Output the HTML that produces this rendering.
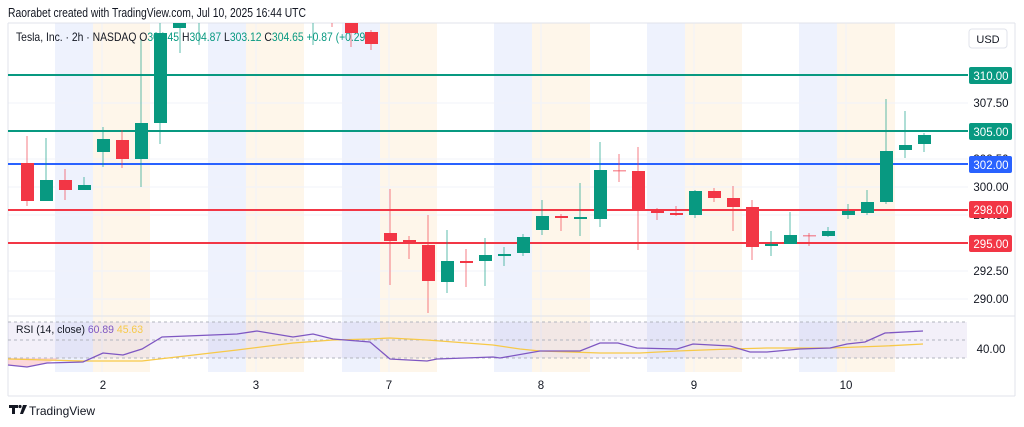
<!DOCTYPE html>
<html><head><meta charset="utf-8"><style>
html,body{margin:0;padding:0;background:#fff;width:1024px;height:427px;overflow:hidden}
svg{display:block}
text{font-family:"Liberation Sans",sans-serif}
</style></head><body>
<svg width="1024" height="427" viewBox="0 0 1024 427" xmlns="http://www.w3.org/2000/svg">
<rect width="1024" height="427" fill="#fff"/>
<text x="8" y="17" font-size="12.5" fill="#131722" textLength="298" lengthAdjust="spacingAndGlyphs">Raorabet created with TradingView.com, Jul 10, 2025 16:44 UTC</text>
<g>
<rect x="55" y="23" width="38" height="349" fill="#eef2fd"/><rect x="93" y="23" width="57" height="349" fill="#fef6ea"/>
<rect x="208" y="23" width="38" height="349" fill="#eef2fd"/><rect x="246" y="23" width="58" height="349" fill="#fef6ea"/>
<rect x="342" y="23" width="38" height="349" fill="#eef2fd"/><rect x="380" y="23" width="57" height="349" fill="#fef6ea"/>
<rect x="494" y="23" width="38" height="349" fill="#eef2fd"/><rect x="532" y="23" width="58" height="349" fill="#fef6ea"/>
<rect x="647" y="23" width="38" height="349" fill="#eef2fd"/><rect x="685" y="23" width="57" height="349" fill="#fef6ea"/>
<rect x="799" y="23" width="38" height="349" fill="#eef2fd"/><rect x="837" y="23" width="58" height="349" fill="#fef6ea"/>
</g>
<g stroke="#f0f3fa" stroke-width="1">
<line x1="8" y1="103" x2="968" y2="103"/><line x1="8" y1="159" x2="968" y2="159"/><line x1="8" y1="187" x2="968" y2="187"/><line x1="8" y1="215" x2="968" y2="215"/><line x1="8" y1="271" x2="968" y2="271"/><line x1="8" y1="299" x2="968" y2="299"/>
<line x1="102" y1="23" x2="102" y2="372"/><line x1="256" y1="23" x2="256" y2="372"/><line x1="389" y1="23" x2="389" y2="372"/><line x1="541" y1="23" x2="541" y2="372"/><line x1="694" y1="23" x2="694" y2="372"/><line x1="846" y1="23" x2="846" y2="372"/>
</g>
<g stroke="#e0e3eb" stroke-width="1" fill="none">
<line x1="8" y1="23" x2="1015" y2="23"/>
<line x1="8" y1="316" x2="1015" y2="316"/>
<line x1="8" y1="396" x2="1015" y2="396"/>
<line x1="8" y1="23" x2="8" y2="396"/>
<line x1="1015" y1="23" x2="1015" y2="396"/>
</g>
<text x="16" y="41" font-size="12" fill="#131722" textLength="362" lengthAdjust="spacingAndGlyphs">Tesla, Inc. · 2h · NASDAQ  <tspan fill="#131722">O</tspan><tspan fill="#089981">304.45</tspan> <tspan fill="#131722">H</tspan><tspan fill="#089981">304.87</tspan> <tspan fill="#131722">L</tspan><tspan fill="#089981">303.12</tspan> <tspan fill="#131722">C</tspan><tspan fill="#089981">304.65</tspan> <tspan fill="#089981">+0.87 (+0.29%)</tspan></text>
<g stroke-width="2">
<line x1="8" y1="75" x2="968" y2="75" stroke="#089981"/>
<line x1="8" y1="131" x2="968" y2="131" stroke="#089981"/>
<line x1="8" y1="164" x2="968" y2="164" stroke="#2962ff"/>
<line x1="8" y1="210" x2="968" y2="210" stroke="#f23645"/>
<line x1="8" y1="243" x2="968" y2="243" stroke="#f23645"/>
</g>
<g>
<g stroke="#089981" stroke-opacity="0.5" stroke-width="1.3">
<line x1="46" y1="138" x2="46" y2="201"/><line x1="84" y1="177" x2="84" y2="190"/><line x1="103" y1="127" x2="103" y2="167"/><line x1="141" y1="40" x2="141" y2="187"/><line x1="160" y1="23" x2="160" y2="144"/><line x1="180" y1="23" x2="180" y2="53"/><line x1="199" y1="23" x2="199" y2="45"/><line x1="313" y1="23" x2="313" y2="45"/>
<line x1="447" y1="230" x2="447" y2="293"/><line x1="485" y1="238" x2="485" y2="286"/><line x1="504" y1="247" x2="504" y2="266"/><line x1="523" y1="234" x2="523" y2="256"/><line x1="542" y1="200" x2="542" y2="235"/><line x1="580" y1="183" x2="580" y2="236"/><line x1="600" y1="142" x2="600" y2="227"/><line x1="695" y1="190" x2="695" y2="218"/><line x1="771" y1="231" x2="771" y2="256"/><line x1="790" y1="212" x2="790" y2="244"/><line x1="828" y1="227" x2="828" y2="237"/><line x1="848" y1="204" x2="848" y2="219"/><line x1="867" y1="190" x2="867" y2="215"/><line x1="886" y1="99" x2="886" y2="204"/><line x1="905" y1="111" x2="905" y2="158"/><line x1="924" y1="133" x2="924" y2="152"/>
</g>
<g stroke="#f23645" stroke-opacity="0.5" stroke-width="1.3">
<line x1="27" y1="136" x2="27" y2="206"/><line x1="65" y1="169" x2="65" y2="200"/><line x1="122" y1="130" x2="122" y2="168"/><line x1="332" y1="23" x2="332" y2="27"/><line x1="351" y1="23" x2="351" y2="47"/><line x1="371" y1="30" x2="371" y2="50"/><line x1="390" y1="189" x2="390" y2="285"/><line x1="409" y1="236" x2="409" y2="259"/><line x1="428" y1="215" x2="428" y2="313"/><line x1="466" y1="249" x2="466" y2="287"/><line x1="561" y1="214" x2="561" y2="231"/><line x1="619" y1="154" x2="619" y2="182"/><line x1="638" y1="147" x2="638" y2="250"/><line x1="657" y1="208" x2="657" y2="220"/><line x1="676" y1="206" x2="676" y2="216"/><line x1="714" y1="188" x2="714" y2="202"/><line x1="733" y1="186" x2="733" y2="231"/><line x1="752" y1="200" x2="752" y2="260"/><line x1="809" y1="233" x2="809" y2="246"/>
</g>
<g fill="#089981">
<rect x="40" y="180" width="13" height="21"/><rect x="78" y="185" width="13" height="5"/><rect x="97" y="139" width="13" height="13"/><rect x="135" y="123" width="13" height="36"/><rect x="154" y="33" width="13" height="90"/><rect x="173" y="23" width="13" height="5"/>
<rect x="441" y="261" width="13" height="21"/><rect x="479" y="255" width="13" height="6"/><rect x="498" y="254" width="13" height="2"/><rect x="517" y="237" width="13" height="16"/><rect x="536" y="216" width="13" height="14"/><rect x="574" y="217" width="13" height="2"/><rect x="594" y="170" width="13" height="49"/><rect x="689" y="191" width="13" height="24"/><rect x="765" y="244" width="13" height="2"/><rect x="784" y="235" width="13" height="9"/><rect x="822" y="231" width="13" height="5"/><rect x="842" y="211" width="13" height="4"/><rect x="861" y="202" width="13" height="11"/><rect x="880" y="151" width="13" height="51"/><rect x="899" y="145" width="13" height="5"/><rect x="918" y="135" width="13" height="9"/>
</g>
<g fill="#f23645">
<rect x="21" y="163" width="13" height="38"/><rect x="59" y="180" width="13" height="10"/><rect x="116" y="140" width="13" height="19"/><rect x="345" y="23" width="13" height="10"/><rect x="365" y="32" width="13" height="12"/><rect x="384" y="233" width="13" height="8"/><rect x="403" y="240" width="13" height="4"/><rect x="422" y="245" width="13" height="36"/><rect x="460" y="261" width="13" height="2"/><rect x="555" y="216" width="13" height="2"/><rect x="613" y="170" width="13" height="1.5" fill-opacity="0.5"/><rect x="632" y="171" width="13" height="40"/><rect x="651" y="210" width="13" height="3"/><rect x="670" y="213" width="13" height="2"/><rect x="708" y="191" width="13" height="7"/><rect x="727" y="198" width="13" height="9"/><rect x="746" y="207" width="13" height="40"/><rect x="803" y="235" width="13" height="1.5" fill-opacity="0.5"/>
</g>
</g>
<rect x="969" y="29" width="38" height="19" rx="3" fill="#fff" stroke="#e0e3eb"/>
<text x="988" y="43" font-size="11" fill="#131722" text-anchor="middle">USD</text>
<g font-size="11.5" fill="#131722" text-anchor="middle">
<text x="991" y="107">307.50</text><text x="991" y="163">302.50</text><text x="991" y="191">300.00</text><text x="991" y="219">297.50</text><text x="991" y="275">292.50</text><text x="991" y="303">290.00</text>
<text x="991" y="353">40.00</text>
</g>
<g font-size="11.5" fill="#fff" text-anchor="middle">
<rect x="969" y="67" width="43" height="17" rx="2" fill="#089981"/><text x="991" y="80">310.00</text>
<rect x="969" y="123" width="43" height="17" rx="2" fill="#089981"/><text x="991" y="136">305.00</text>
<rect x="969" y="156" width="43" height="17" rx="2" fill="#2962ff"/><text x="991" y="169">302.00</text>
<rect x="969" y="201" width="43" height="17" rx="2" fill="#f23645"/><text x="991" y="214">298.00</text>
<rect x="969" y="235" width="43" height="17" rx="2" fill="#f23645"/><text x="991" y="248">295.00</text>
</g>
<rect x="8" y="322" width="959" height="36" fill="#7e57c2" fill-opacity="0.09"/>
<path d="M8,358 L8,365 L27,367 L47,363 L60,358 Z" fill="#f23645" fill-opacity="0.2"/>
<g stroke="#b2b5be" stroke-dasharray="3,3" stroke-width="1">
<line x1="8" y1="322" x2="967" y2="322"/><line x1="8" y1="340" x2="967" y2="340"/><line x1="8" y1="358" x2="967" y2="358"/>
</g>
<text x="16" y="333" font-size="11" fill="#131722" textLength="127" lengthAdjust="spacingAndGlyphs">RSI (14, close) <tspan fill="#7e57c2">60.89</tspan> <tspan fill="#f7c948">45.63</tspan></text>
<polyline fill="none" stroke="#f7c948" stroke-width="1.3" points="8,359 83,361 142,361 237,350 293,343 333,340 370,339 390,338 427,340 493,345 520,349 540,351 600,353 640,353 677,351 730,349 767,348 830,348 885,346 923,344"/>
<polyline fill="none" stroke="#7e57c2" stroke-width="1.3" points="8,365 27,367 47,363 83,362 103,353 123,355 142,349 162,337 237,334 257,331 293,337 313,334 333,339 370,342 390,359 427,361 437,359 493,357 500,358 540,351 580,351 600,343 618,343 637,348 677,349 693,344 730,346 750,352 767,352 800,349 830,348 847,344 865,342 885,333 923,331"/>
<g font-size="11.5" fill="#131722" text-anchor="middle">
<text x="103" y="389">2</text><text x="256" y="389">3</text><text x="389" y="389">7</text><text x="541" y="389">8</text><text x="694" y="389">9</text><text x="846" y="389">10</text>
</g>
<g fill="#131722">
<path d="M9 405h9v3h-3v6h-3v-6h-3z"/><circle cx="20" cy="406.5" r="1.6"/><path d="M23 405h4l-4 9h-3z"/>
</g>
<text x="29" y="415" font-size="12" fill="#131722">TradingView</text>
</svg>
</body></html>
